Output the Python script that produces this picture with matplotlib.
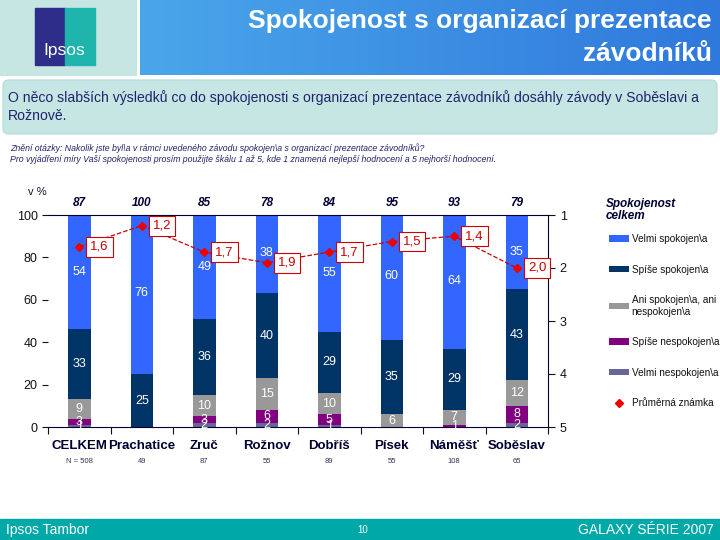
import numpy as np
import matplotlib
matplotlib.use("Agg")
import matplotlib.pyplot as plt
from matplotlib.patches import Rectangle, FancyBboxPatch
from matplotlib.lines import Line2D

plt.rcParams['font.family'] = ['Liberation Sans', 'DejaVu Sans']

# data
categories = ['CELKEM', 'Prachatice', 'Zruč', 'Rožnov', 'Dobříš', 'Písek', 'Náměšť', 'Soběslav']
n_labels = ['N = 508', '49', '87', '55', '89', '55', '108', '65']
top_labels = ['87', '100', '85', '78', '84', '95', '93', '79']
velmi_nesp = [1, 0, 2, 2, 1, 0, 0, 2]
spise_nesp = [3, 0, 3, 6, 5, 0, 1, 8]
ani = [9, 0, 10, 15, 10, 6, 7, 12]
spise_spok = [33, 25, 36, 40, 29, 35, 29, 43]
velmi_spok = [54, 76, 49, 38, 55, 60, 64, 35]
mean_mark = [1.6, 1.2, 1.7, 1.9, 1.7, 1.5, 1.4, 2.0]

series = [
    ('Velmi nespokojen\\a', velmi_nesp, '#666699'),
    ('Spíše nespokojen\\a', spise_nesp, '#800080'),
    ('Ani spokojen\\a, ani\nnespokojen\\a', ani, '#999999'),
    ('Spíše spokojen\\a', spise_spok, '#003366'),
    ('Velmi spokojen\\a', velmi_spok, '#3366ff'),
]

W, H = 720, 540
fig = plt.figure(figsize=(7.2, 5.4), dpi=100)
fig.patch.set_facecolor('white')

# header, summary box and footer
bg = fig.add_axes([0, 0, 1, 1], zorder=-5)
bg.axis('off')
bg.add_patch(Rectangle((0, 0), 136, 75, color='#c6e6e4'))
grad = np.linspace(0, 1, 256).reshape(1, -1)
bg.imshow(grad, extent=(140, 720, 75, 0), aspect='auto',
          cmap=matplotlib.colors.LinearSegmentedColormap.from_list('h', ['#4aa6ea', '#2f78dc']),
          zorder=0)
bg.set_xlim(0, W)
bg.set_ylim(H, 0)
# logo
bg.add_patch(Rectangle((35, 8), 30, 57, color='#2e2e8a', zorder=1))
bg.add_patch(Rectangle((65, 8), 30, 57, color='#1fb5ad', zorder=1))
bg.text(64, 50, 'Ipsos', color='white', fontsize=12.5, ha='center', va='center', zorder=2)
bg.text(712, 21, 'Spokojenost s organizací prezentace', color='white', fontsize=19,
        fontweight='bold', ha='right', va='center')
bg.text(712, 54, 'závodníků', color='white', fontsize=19, fontweight='bold',
        ha='right', va='center')
bg.add_patch(FancyBboxPatch((3, 80), 714, 54, boxstyle='round,pad=0,rounding_size=6',
                            facecolor='#c6e6e4', edgecolor='#b0d8d6', lw=0.8))
bg.text(8, 98, 'O něco slabších výsledků co do spokojenosti s organizací prezentace závodníků '
        'dosáhly závody v Soběslavi a', color='#22226e', fontsize=10.1, va='center')
bg.text(8, 116, 'Rožnově.', color='#22226e', fontsize=10.1, va='center')
bg.text(10, 148, 'Znění otázky: Nakolik jste byl\\a v rámci uvedeného závodu spokojen\\a s organizací '
        'prezentace závodníků?', color='#22226e', fontsize=6.3, style='italic', va='center')
bg.text(10, 160, 'Pro vyjádření míry Vaší spokojenosti prosím použijte škálu 1 až 5, kde 1 znamená '
        'nejlepší hodnocení a 5 nejhorší hodnocení.', color='#22226e', fontsize=6.3,
        style='italic', va='center')
bg.text(37, 192, 'v %', color='#111133', fontsize=8, va='center', ha='center')
bg.add_patch(Rectangle((0, 519), W, 21, color='#00a8a8'))
bg.text(6, 530, 'Ipsos Tambor', color='white', fontsize=10, va='center')
bg.text(363, 530, '10', color='white', fontsize=7, va='center', ha='center')
bg.text(714, 530, 'GALAXY SÉRIE 2007', color='white', fontsize=10, va='center', ha='right')

# chart
ax = fig.add_axes([48 / W, 1 - 427 / H, 500 / W, 212 / H])
x = np.arange(len(categories))
bottom = np.zeros(len(categories))
handles = []
for name, vals, col in series:
    vals = np.array(vals)
    b = ax.bar(x, vals, 0.36, bottom=bottom, color=col, label=name, zorder=2)
    handles.append(b)
    for xi, v, b0 in zip(x, vals, bottom):
        if v > 0:
            ax.text(xi, b0 + v / 2, str(v), color='white', fontsize=9, ha='center',
                    va='center', zorder=3)
    bottom = bottom + vals

ax.set_xlim(-0.5, len(categories) - 0.5)
ax.set_ylim(0, 100)
ax.set_yticks([0, 20, 40, 60, 80, 100])
ax.tick_params(axis='y', labelsize=9, length=4, colors='#111111')
ax.set_xticks(np.arange(len(categories) + 1) - 0.5)
ax.set_xticklabels([])
ax.tick_params(axis='x', length=5, direction='out', colors='#111111')
for s in ['left', 'right']:
    ax.spines[s].set_visible(False)
ax.spines['top'].set_color('#000033')
ax.spines['bottom'].set_color('#000033')
for xi, lbl, nl, tl in zip(x, categories, n_labels, top_labels):
    ax.text(xi, -9, lbl, ha='center', va='center', fontsize=9.5, fontweight='bold',
            color='#000033', clip_on=False)
    ax.text(xi, -16.5, nl, ha='center', va='center', fontsize=5.5, color='#333355',
            clip_on=False)
    ax.text(xi, 105.5, tl, ha='center', va='center', fontsize=8.5, fontweight='bold',
            style='italic', color='#000033', clip_on=False)

ax2 = ax.twinx()
ax2.set_ylim(5, 1)
ax2.set_yticks([1, 2, 3, 4, 5])
ax2.tick_params(axis='y', labelsize=9, length=5, colors='#111111')
for s in ['left', 'top', 'bottom']:
    ax2.spines[s].set_visible(False)
ax2.spines['right'].set_color('#000033')
ax2.plot(x, mean_mark, color='#cc0000', ls='--', lw=0.9, marker='D', ms=4.5,
         mfc='#ee0000', mec='#ee0000', zorder=4)
for xi, m in zip(x, mean_mark):
    ax2.annotate(f'{m:.1f}'.replace('.', ','), (xi, m), xytext=(8, 0),
                 textcoords='offset points', ha='left', va='center', fontsize=9.5,
                 color='#cc0000',
                 bbox=dict(boxstyle='square,pad=0.3', fc='white', ec='#cc0000', lw=0.8),
                 zorder=5)

# legend
mark = Line2D([], [], ls='none', marker='D', ms=4.5, color='#ee0000')
leg_handles = handles[::-1] + [mark]
leg_labels = [h.get_label() for h in handles[::-1]] + ['Průměrná známka']
fig.legend(leg_handles, leg_labels, loc='upper left', bbox_to_anchor=(600 / W, 1 - 225 / H),
           frameon=False, fontsize=7.2, handlelength=2.0, handleheight=0.6,
           labelspacing=2.05, handletextpad=0.25, labelcolor='#111111')
fig.text(606 / W, 1 - 210 / H, 'Spokojenost\ncelkem', fontsize=8.5, fontweight='bold',
         style='italic', color='#000033', va='center', ha='left', linespacing=1.1)

fig.savefig('out.png', dpi=100)
